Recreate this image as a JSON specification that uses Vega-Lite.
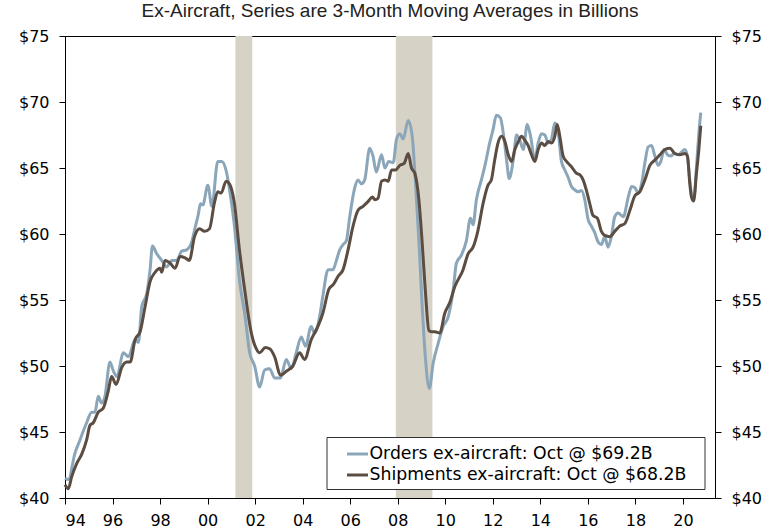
{
  "$schema": "https://vega.github.io/schema/vega-lite/v6.json",
  "width": 650,
  "height": 462,
  "autosize": "none",
  "padding": {"left": 65, "top": 36, "right": 58, "bottom": 31},
  "background": "white",
  "config": {"view": {"stroke": "#000", "strokeWidth": 1}, "font": "DejaVu Sans"},
  "title": {"text": "Ex-Aircraft, Series are 3-Month Moving Averages in Billions", "font": "Liberation Sans", "fontSize": 19, "fontWeight": "normal", "color": "#222", "anchor": "middle", "frame": "group", "offset": 7},
  "datasets": {
    "rec": [{"start": 2001.17, "end": 2001.88}, {"start": 2007.92, "end": 2009.46}],
    "series": [
      {"s": "Orders", "t": 1994.0, "v": 41.5}, {"s": "Orders", "t": 1994.14, "v": 41.4}, {"s": "Orders", "t": 1994.42, "v": 43.4}, {"s": "Orders", "t": 1994.63, "v": 44.4}, {"s": "Orders", "t": 1994.91, "v": 45.7}, {"s": "Orders", "t": 1995.12, "v": 46.5}, {"s": "Orders", "t": 1995.26, "v": 46.5}, {"s": "Orders", "t": 1995.4, "v": 47.7}, {"s": "Orders", "t": 1995.54, "v": 47.2}, {"s": "Orders", "t": 1995.68, "v": 47.7}, {"s": "Orders", "t": 1995.89, "v": 50.3}, {"s": "Orders", "t": 1996.04, "v": 49.6}, {"s": "Orders", "t": 1996.18, "v": 49.2}, {"s": "Orders", "t": 1996.46, "v": 51.0}, {"s": "Orders", "t": 1996.67, "v": 50.7}, {"s": "Orders", "t": 1996.95, "v": 52.0}, {"s": "Orders", "t": 1997.09, "v": 51.8}, {"s": "Orders", "t": 1997.23, "v": 54.5}, {"s": "Orders", "t": 1997.44, "v": 55.5}, {"s": "Orders", "t": 1997.58, "v": 57.3}, {"s": "Orders", "t": 1997.68, "v": 59.1}, {"s": "Orders", "t": 1997.86, "v": 58.5}, {"s": "Orders", "t": 1998.07, "v": 58.0}, {"s": "Orders", "t": 1998.28, "v": 57.5}, {"s": "Orders", "t": 1998.49, "v": 58.0}, {"s": "Orders", "t": 1998.7, "v": 58.0}, {"s": "Orders", "t": 1998.91, "v": 58.7}, {"s": "Orders", "t": 1999.12, "v": 58.8}, {"s": "Orders", "t": 1999.33, "v": 59.4}, {"s": "Orders", "t": 1999.45, "v": 60.3}, {"s": "Orders", "t": 1999.61, "v": 61.5}, {"s": "Orders", "t": 1999.7, "v": 62.3}, {"s": "Orders", "t": 1999.8, "v": 62.2}, {"s": "Orders", "t": 2000.01, "v": 63.7}, {"s": "Orders", "t": 2000.18, "v": 62.1}, {"s": "Orders", "t": 2000.43, "v": 65.5}, {"s": "Orders", "t": 2000.6, "v": 65.5}, {"s": "Orders", "t": 2000.78, "v": 64.8}, {"s": "Orders", "t": 2000.97, "v": 62.8}, {"s": "Orders", "t": 2001.13, "v": 60.6}, {"s": "Orders", "t": 2001.34, "v": 56.5}, {"s": "Orders", "t": 2001.56, "v": 54.0}, {"s": "Orders", "t": 2001.77, "v": 51.0}, {"s": "Orders", "t": 2001.98, "v": 50.0}, {"s": "Orders", "t": 2002.19, "v": 48.4}, {"s": "Orders", "t": 2002.4, "v": 49.7}, {"s": "Orders", "t": 2002.61, "v": 49.8}, {"s": "Orders", "t": 2002.82, "v": 49.1}, {"s": "Orders", "t": 2003.07, "v": 49.1}, {"s": "Orders", "t": 2003.31, "v": 50.5}, {"s": "Orders", "t": 2003.52, "v": 49.8}, {"s": "Orders", "t": 2003.73, "v": 51.0}, {"s": "Orders", "t": 2003.94, "v": 52.2}, {"s": "Orders", "t": 2004.12, "v": 51.5}, {"s": "Orders", "t": 2004.36, "v": 53.0}, {"s": "Orders", "t": 2004.5, "v": 52.5}, {"s": "Orders", "t": 2004.71, "v": 53.7}, {"s": "Orders", "t": 2004.85, "v": 55.3}, {"s": "Orders", "t": 2005.07, "v": 57.3}, {"s": "Orders", "t": 2005.28, "v": 57.3}, {"s": "Orders", "t": 2005.42, "v": 58.0}, {"s": "Orders", "t": 2005.56, "v": 58.8}, {"s": "Orders", "t": 2005.7, "v": 59.2}, {"s": "Orders", "t": 2005.84, "v": 59.5}, {"s": "Orders", "t": 2005.98, "v": 61.3}, {"s": "Orders", "t": 2006.19, "v": 63.5}, {"s": "Orders", "t": 2006.33, "v": 64.1}, {"s": "Orders", "t": 2006.47, "v": 63.8}, {"s": "Orders", "t": 2006.61, "v": 64.1}, {"s": "Orders", "t": 2006.82, "v": 66.5}, {"s": "Orders", "t": 2006.96, "v": 65.9}, {"s": "Orders", "t": 2007.1, "v": 64.7}, {"s": "Orders", "t": 2007.32, "v": 66.0}, {"s": "Orders", "t": 2007.46, "v": 65.0}, {"s": "Orders", "t": 2007.62, "v": 65.5}, {"s": "Orders", "t": 2007.81, "v": 65.4}, {"s": "Orders", "t": 2007.95, "v": 67.2}, {"s": "Orders", "t": 2008.09, "v": 67.6}, {"s": "Orders", "t": 2008.23, "v": 67.2}, {"s": "Orders", "t": 2008.44, "v": 68.6}, {"s": "Orders", "t": 2008.61, "v": 67.4}, {"s": "Orders", "t": 2008.75, "v": 63.8}, {"s": "Orders", "t": 2008.89, "v": 59.5}, {"s": "Orders", "t": 2009.03, "v": 54.5}, {"s": "Orders", "t": 2009.17, "v": 50.5}, {"s": "Orders", "t": 2009.33, "v": 48.3}, {"s": "Orders", "t": 2009.49, "v": 50.2}, {"s": "Orders", "t": 2009.7, "v": 51.7}, {"s": "Orders", "t": 2009.91, "v": 53.0}, {"s": "Orders", "t": 2010.12, "v": 53.7}, {"s": "Orders", "t": 2010.33, "v": 55.7}, {"s": "Orders", "t": 2010.47, "v": 57.8}, {"s": "Orders", "t": 2010.68, "v": 58.4}, {"s": "Orders", "t": 2010.89, "v": 59.5}, {"s": "Orders", "t": 2011.06, "v": 61.2}, {"s": "Orders", "t": 2011.17, "v": 60.7}, {"s": "Orders", "t": 2011.31, "v": 62.6}, {"s": "Orders", "t": 2011.52, "v": 64.1}, {"s": "Orders", "t": 2011.66, "v": 65.1}, {"s": "Orders", "t": 2011.87, "v": 66.9}, {"s": "Orders", "t": 2012.01, "v": 67.9}, {"s": "Orders", "t": 2012.15, "v": 69.0}, {"s": "Orders", "t": 2012.32, "v": 68.8}, {"s": "Orders", "t": 2012.46, "v": 67.4}, {"s": "Orders", "t": 2012.58, "v": 65.6}, {"s": "Orders", "t": 2012.69, "v": 64.2}, {"s": "Orders", "t": 2012.86, "v": 65.6}, {"s": "Orders", "t": 2013.0, "v": 67.5}, {"s": "Orders", "t": 2013.14, "v": 67.1}, {"s": "Orders", "t": 2013.28, "v": 66.4}, {"s": "Orders", "t": 2013.45, "v": 68.3}, {"s": "Orders", "t": 2013.59, "v": 67.4}, {"s": "Orders", "t": 2013.77, "v": 65.6}, {"s": "Orders", "t": 2013.91, "v": 66.9}, {"s": "Orders", "t": 2014.05, "v": 67.6}, {"s": "Orders", "t": 2014.19, "v": 67.5}, {"s": "Orders", "t": 2014.33, "v": 66.9}, {"s": "Orders", "t": 2014.47, "v": 67.2}, {"s": "Orders", "t": 2014.61, "v": 68.4}, {"s": "Orders", "t": 2014.75, "v": 67.75}, {"s": "Orders", "t": 2014.89, "v": 65.5}, {"s": "Orders", "t": 2015.03, "v": 64.85}, {"s": "Orders", "t": 2015.17, "v": 64.3}, {"s": "Orders", "t": 2015.31, "v": 63.6}, {"s": "Orders", "t": 2015.45, "v": 63.35}, {"s": "Orders", "t": 2015.59, "v": 63.2}, {"s": "Orders", "t": 2015.73, "v": 63.3}, {"s": "Orders", "t": 2015.87, "v": 62.6}, {"s": "Orders", "t": 2016.01, "v": 61.1}, {"s": "Orders", "t": 2016.15, "v": 60.6}, {"s": "Orders", "t": 2016.29, "v": 60.1}, {"s": "Orders", "t": 2016.43, "v": 59.4}, {"s": "Orders", "t": 2016.57, "v": 59.2}, {"s": "Orders", "t": 2016.71, "v": 59.8}, {"s": "Orders", "t": 2016.85, "v": 59.0}, {"s": "Orders", "t": 2016.99, "v": 59.8}, {"s": "Orders", "t": 2017.13, "v": 61.3}, {"s": "Orders", "t": 2017.27, "v": 61.6}, {"s": "Orders", "t": 2017.49, "v": 61.3}, {"s": "Orders", "t": 2017.7, "v": 62.8}, {"s": "Orders", "t": 2017.84, "v": 63.6}, {"s": "Orders", "t": 2017.98, "v": 63.5}, {"s": "Orders", "t": 2018.12, "v": 63.1}, {"s": "Orders", "t": 2018.26, "v": 63.8}, {"s": "Orders", "t": 2018.4, "v": 65.4}, {"s": "Orders", "t": 2018.54, "v": 66.6}, {"s": "Orders", "t": 2018.68, "v": 66.7}, {"s": "Orders", "t": 2018.82, "v": 65.9}, {"s": "Orders", "t": 2018.96, "v": 65.2}, {"s": "Orders", "t": 2019.07, "v": 65.5}, {"s": "Orders", "t": 2019.21, "v": 66.4}, {"s": "Orders", "t": 2019.35, "v": 66.0}, {"s": "Orders", "t": 2019.49, "v": 65.9}, {"s": "Orders", "t": 2019.63, "v": 66.1}, {"s": "Orders", "t": 2019.8, "v": 66.0}, {"s": "Orders", "t": 2019.94, "v": 66.2}, {"s": "Orders", "t": 2020.08, "v": 66.4}, {"s": "Orders", "t": 2020.19, "v": 65.9}, {"s": "Orders", "t": 2020.29, "v": 64.1}, {"s": "Orders", "t": 2020.39, "v": 62.8}, {"s": "Orders", "t": 2020.47, "v": 62.8}, {"s": "Orders", "t": 2020.57, "v": 65.1}, {"s": "Orders", "t": 2020.67, "v": 67.6}, {"s": "Orders", "t": 2020.75, "v": 69.2},
      {"s": "Shipments", "t": 1994.0, "v": 41.0}, {"s": "Shipments", "t": 1994.14, "v": 40.7}, {"s": "Shipments", "t": 1994.28, "v": 41.6}, {"s": "Shipments", "t": 1994.49, "v": 42.6}, {"s": "Shipments", "t": 1994.7, "v": 43.3}, {"s": "Shipments", "t": 1994.91, "v": 44.4}, {"s": "Shipments", "t": 1995.05, "v": 45.5}, {"s": "Shipments", "t": 1995.19, "v": 45.7}, {"s": "Shipments", "t": 1995.4, "v": 46.5}, {"s": "Shipments", "t": 1995.61, "v": 46.8}, {"s": "Shipments", "t": 1995.82, "v": 48.1}, {"s": "Shipments", "t": 1995.96, "v": 49.2}, {"s": "Shipments", "t": 1996.15, "v": 48.6}, {"s": "Shipments", "t": 1996.39, "v": 49.9}, {"s": "Shipments", "t": 1996.6, "v": 50.3}, {"s": "Shipments", "t": 1996.74, "v": 50.3}, {"s": "Shipments", "t": 1996.95, "v": 52.0}, {"s": "Shipments", "t": 1997.16, "v": 52.6}, {"s": "Shipments", "t": 1997.37, "v": 54.5}, {"s": "Shipments", "t": 1997.58, "v": 56.4}, {"s": "Shipments", "t": 1997.79, "v": 57.1}, {"s": "Shipments", "t": 1998.0, "v": 57.4}, {"s": "Shipments", "t": 1998.07, "v": 57.1}, {"s": "Shipments", "t": 1998.21, "v": 58.0}, {"s": "Shipments", "t": 1998.42, "v": 57.8}, {"s": "Shipments", "t": 1998.63, "v": 57.4}, {"s": "Shipments", "t": 1998.84, "v": 58.3}, {"s": "Shipments", "t": 1999.05, "v": 58.2}, {"s": "Shipments", "t": 1999.23, "v": 58.0}, {"s": "Shipments", "t": 1999.45, "v": 59.8}, {"s": "Shipments", "t": 1999.66, "v": 60.4}, {"s": "Shipments", "t": 1999.87, "v": 60.2}, {"s": "Shipments", "t": 2000.08, "v": 60.4}, {"s": "Shipments", "t": 2000.29, "v": 62.4}, {"s": "Shipments", "t": 2000.43, "v": 63.2}, {"s": "Shipments", "t": 2000.57, "v": 63.1}, {"s": "Shipments", "t": 2000.78, "v": 64.0}, {"s": "Shipments", "t": 2000.92, "v": 63.8}, {"s": "Shipments", "t": 2001.13, "v": 62.3}, {"s": "Shipments", "t": 2001.34, "v": 58.8}, {"s": "Shipments", "t": 2001.56, "v": 55.8}, {"s": "Shipments", "t": 2001.84, "v": 52.5}, {"s": "Shipments", "t": 2002.05, "v": 51.3}, {"s": "Shipments", "t": 2002.19, "v": 51.0}, {"s": "Shipments", "t": 2002.43, "v": 51.4}, {"s": "Shipments", "t": 2002.61, "v": 51.3}, {"s": "Shipments", "t": 2002.82, "v": 50.7}, {"s": "Shipments", "t": 2003.07, "v": 49.3}, {"s": "Shipments", "t": 2003.31, "v": 49.6}, {"s": "Shipments", "t": 2003.59, "v": 50.0}, {"s": "Shipments", "t": 2003.87, "v": 51.0}, {"s": "Shipments", "t": 2004.08, "v": 50.5}, {"s": "Shipments", "t": 2004.36, "v": 52.0}, {"s": "Shipments", "t": 2004.64, "v": 53.0}, {"s": "Shipments", "t": 2004.85, "v": 54.0}, {"s": "Shipments", "t": 2005.1, "v": 55.8}, {"s": "Shipments", "t": 2005.3, "v": 56.2}, {"s": "Shipments", "t": 2005.49, "v": 56.8}, {"s": "Shipments", "t": 2005.7, "v": 57.3}, {"s": "Shipments", "t": 2005.91, "v": 58.8}, {"s": "Shipments", "t": 2006.12, "v": 60.6}, {"s": "Shipments", "t": 2006.33, "v": 61.8}, {"s": "Shipments", "t": 2006.54, "v": 62.1}, {"s": "Shipments", "t": 2006.75, "v": 62.45}, {"s": "Shipments", "t": 2006.94, "v": 62.8}, {"s": "Shipments", "t": 2007.04, "v": 62.6}, {"s": "Shipments", "t": 2007.17, "v": 62.7}, {"s": "Shipments", "t": 2007.32, "v": 64.0}, {"s": "Shipments", "t": 2007.46, "v": 64.1}, {"s": "Shipments", "t": 2007.6, "v": 64.0}, {"s": "Shipments", "t": 2007.74, "v": 64.85}, {"s": "Shipments", "t": 2007.91, "v": 64.85}, {"s": "Shipments", "t": 2008.09, "v": 65.2}, {"s": "Shipments", "t": 2008.27, "v": 65.35}, {"s": "Shipments", "t": 2008.44, "v": 66.1}, {"s": "Shipments", "t": 2008.58, "v": 65.0}, {"s": "Shipments", "t": 2008.72, "v": 64.6}, {"s": "Shipments", "t": 2008.89, "v": 62.6}, {"s": "Shipments", "t": 2009.03, "v": 59.3}, {"s": "Shipments", "t": 2009.17, "v": 55.5}, {"s": "Shipments", "t": 2009.31, "v": 52.7}, {"s": "Shipments", "t": 2009.42, "v": 52.6}, {"s": "Shipments", "t": 2009.56, "v": 52.6}, {"s": "Shipments", "t": 2009.77, "v": 52.5}, {"s": "Shipments", "t": 2009.98, "v": 54.0}, {"s": "Shipments", "t": 2010.19, "v": 54.8}, {"s": "Shipments", "t": 2010.4, "v": 56.0}, {"s": "Shipments", "t": 2010.75, "v": 57.3}, {"s": "Shipments", "t": 2010.96, "v": 58.5}, {"s": "Shipments", "t": 2011.17, "v": 59.0}, {"s": "Shipments", "t": 2011.38, "v": 60.3}, {"s": "Shipments", "t": 2011.59, "v": 62.3}, {"s": "Shipments", "t": 2011.8, "v": 63.7}, {"s": "Shipments", "t": 2011.94, "v": 64.1}, {"s": "Shipments", "t": 2012.08, "v": 65.6}, {"s": "Shipments", "t": 2012.22, "v": 66.9}, {"s": "Shipments", "t": 2012.37, "v": 67.4}, {"s": "Shipments", "t": 2012.51, "v": 67.0}, {"s": "Shipments", "t": 2012.65, "v": 66.0}, {"s": "Shipments", "t": 2012.79, "v": 65.5}, {"s": "Shipments", "t": 2012.93, "v": 66.4}, {"s": "Shipments", "t": 2013.07, "v": 67.0}, {"s": "Shipments", "t": 2013.21, "v": 67.4}, {"s": "Shipments", "t": 2013.35, "v": 67.1}, {"s": "Shipments", "t": 2013.49, "v": 66.7}, {"s": "Shipments", "t": 2013.63, "v": 66.0}, {"s": "Shipments", "t": 2013.77, "v": 65.5}, {"s": "Shipments", "t": 2013.91, "v": 66.4}, {"s": "Shipments", "t": 2014.05, "v": 66.9}, {"s": "Shipments", "t": 2014.19, "v": 66.7}, {"s": "Shipments", "t": 2014.33, "v": 67.0}, {"s": "Shipments", "t": 2014.47, "v": 66.9}, {"s": "Shipments", "t": 2014.61, "v": 67.4}, {"s": "Shipments", "t": 2014.71, "v": 68.3}, {"s": "Shipments", "t": 2014.82, "v": 67.4}, {"s": "Shipments", "t": 2014.96, "v": 65.9}, {"s": "Shipments", "t": 2015.1, "v": 65.5}, {"s": "Shipments", "t": 2015.31, "v": 65.1}, {"s": "Shipments", "t": 2015.52, "v": 64.6}, {"s": "Shipments", "t": 2015.66, "v": 64.5}, {"s": "Shipments", "t": 2015.8, "v": 64.1}, {"s": "Shipments", "t": 2015.94, "v": 63.3}, {"s": "Shipments", "t": 2016.08, "v": 62.3}, {"s": "Shipments", "t": 2016.22, "v": 61.4}, {"s": "Shipments", "t": 2016.4, "v": 61.2}, {"s": "Shipments", "t": 2016.57, "v": 60.2}, {"s": "Shipments", "t": 2016.71, "v": 59.9}, {"s": "Shipments", "t": 2016.92, "v": 59.8}, {"s": "Shipments", "t": 2017.13, "v": 60.2}, {"s": "Shipments", "t": 2017.34, "v": 60.6}, {"s": "Shipments", "t": 2017.56, "v": 60.8}, {"s": "Shipments", "t": 2017.77, "v": 61.8}, {"s": "Shipments", "t": 2017.98, "v": 62.9}, {"s": "Shipments", "t": 2018.19, "v": 63.2}, {"s": "Shipments", "t": 2018.4, "v": 64.1}, {"s": "Shipments", "t": 2018.61, "v": 65.2}, {"s": "Shipments", "t": 2018.82, "v": 65.6}, {"s": "Shipments", "t": 2019.03, "v": 66.0}, {"s": "Shipments", "t": 2019.24, "v": 66.4}, {"s": "Shipments", "t": 2019.45, "v": 66.5}, {"s": "Shipments", "t": 2019.66, "v": 66.1}, {"s": "Shipments", "t": 2019.87, "v": 66.0}, {"s": "Shipments", "t": 2020.08, "v": 66.1}, {"s": "Shipments", "t": 2020.19, "v": 65.9}, {"s": "Shipments", "t": 2020.29, "v": 63.8}, {"s": "Shipments", "t": 2020.36, "v": 62.8}, {"s": "Shipments", "t": 2020.45, "v": 62.5}, {"s": "Shipments", "t": 2020.57, "v": 64.6}, {"s": "Shipments", "t": 2020.67, "v": 66.4}, {"s": "Shipments", "t": 2020.75, "v": 68.2}
    ]
  },
  "layer": [
    {
      "data": {"name": "rec"},
      "mark": {"type": "rect", "color": "#d6d2c6"},
      "encoding": {
        "x": {"field": "start", "type": "quantitative", "scale": {"domain": [1994, 2021.35], "nice": false, "zero": false},
          "axis": {"values": [1994, 1996, 1998, 2000, 2002, 2004, 2006, 2008, 2010, 2012, 2014, 2016, 2018, 2020], "labelExpr": "(datum.value % 100 < 10 ? '0' : '') + (datum.value % 100)", "title": null, "grid": false, "tickSize": 6, "labelPadding": 8, "labelFontSize": 16, "labelColor": "#000", "domainColor": "#000", "tickColor": "#000", "labelFont": "DejaVu Sans"}},
        "x2": {"field": "end"}
      }
    },
    {
      "data": {"name": "series"},
      "mark": {"type": "line", "strokeWidth": 3, "interpolate": "monotone"},
      "encoding": {
        "x": {"field": "t", "type": "quantitative"},
        "y": {"field": "v", "type": "quantitative", "scale": {"domain": [40, 75], "nice": false, "zero": false},
          "axis": {"orient": "left", "values": [40, 45, 50, 55, 60, 65, 70, 75], "labelExpr": "'$' + datum.value", "title": null, "grid": false, "tickSize": 6, "labelPadding": 10, "labelFontSize": 16, "labelColor": "#000", "domainColor": "#000", "tickColor": "#000", "labelFont": "DejaVu Sans"}},
        "color": {"field": "s", "type": "nominal", "scale": {"domain": ["Orders", "Shipments"], "range": ["#8ba6b9", "#5c4d43"]},
          "legend": {"orient": "none", "legendX": 261.5, "legendY": 401, "title": null, "symbolType": "stroke", "symbolStrokeWidth": 3, "symbolSize": 441, "labelFontSize": 17.3, "labelColor": "#000", "labelFont": "DejaVu Sans", "fillColor": "#fff", "strokeColor": "#333", "padding": 5, "symbolOffset": 14, "labelOffset": 0, "rowPadding": -2, "labelLimit": 600,
            "labelExpr": "datum.label == 'Orders' ? 'Orders ex-aircraft: Oct @ $69.2B' : 'Shipments ex-aircraft: Oct @ $68.2B\u2800'"}}
      }
    },
    {
      "data": {"name": "series"},
      "mark": {"type": "line", "opacity": 0},
      "encoding": {
        "x": {"field": "t", "type": "quantitative"},
        "y": {"field": "v", "type": "quantitative",
          "axis": {"orient": "right", "values": [40, 45, 50, 55, 60, 65, 70, 75], "labelExpr": "'$' + datum.value", "title": null, "grid": false, "tickSize": 6, "labelPadding": 10, "labelFontSize": 16, "labelColor": "#000", "domainColor": "#000", "tickColor": "#000", "labelFont": "DejaVu Sans"}}
      }
    }
  ],
  "resolve": {"axis": {"y": "independent"}}
}
